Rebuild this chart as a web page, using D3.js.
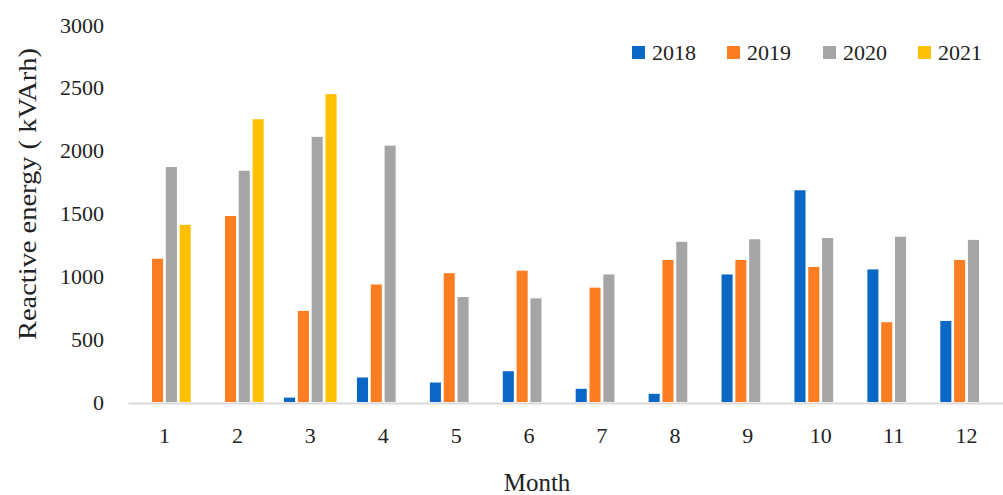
<!DOCTYPE html>
<html>
<head>
<meta charset="utf-8">
<script src="https://d3js.org/d3.v7.min.js"></script>
<style>
  body { margin: 0; background: #fff; }
  text { font-family: "Liberation Serif", "DejaVu Serif", serif; fill: #222; }
</style>
</head>
<body>
<script>
  var months = ["1","2","3","4","5","6","7","8","9","10","11","12"];
  var years = ["2018","2019","2020","2021"];
  var v2018 = [0, 0, 35, 195, 155, 245, 105, 65, 1015, 1685, 1055, 645];
  var v2019 = [1140, 1480, 725, 935, 1025, 1045, 910, 1130, 1130, 1075, 635, 1130];
  var v2020 = [1870, 1840, 2110, 2040, 835, 825, 1015, 1275, 1295, 1305, 1315, 1290];
  var v2021 = [1410, 2250, 2450, 0, 0, 0, 0, 0, 0, 0, 0, 0];
  var yTicks = [0, 500, 1000, 1500, 2000, 2500, 3000];
  var colors = ["#0a67c6", "#fd7d22", "#a5a5a5", "#ffc000"];

  var series = [v2018, v2019, v2020, v2021];
  var rows = months.map(function(m, i) {
    return {month: m, vals: years.map(function(y, j) { return {year: y, value: series[j][i]}; })};
  });

  var width = 1003, height = 495;
  var mLeft = 128, mRight = 1003, mTop = 25, mBottom = 402;

  var svg = d3.select("body").append("svg")
      .attr("width", width)
      .attr("height", height);

  var x0 = d3.scaleBand().domain(months).range([mLeft, mRight])
      .paddingInner(0.28).paddingOuter(0.14);
  var x1 = d3.scaleBand().domain(years).range([0, x0.bandwidth()])
      .paddingInner(0.2);
  var y = d3.scaleLinear().domain([0, 3000]).range([mBottom, mTop]);
  var color = d3.scaleOrdinal().domain(years).range(colors);

  // y axis: labels only
  var yAxis = svg.append("g")
      .attr("transform", "translate(" + (mLeft - 24) + ",0)")
      .call(d3.axisLeft(y).tickValues(yTicks).tickFormat(d3.format("d")).tickSize(0).tickPadding(0));
  yAxis.select(".domain").remove();
  yAxis.selectAll("text").style("font-size", "22px").attr("fill", "#222")
      .style("font-family", "'Liberation Serif', serif");

  // bars
  svg.append("g").selectAll("g")
    .data(rows)
    .enter().append("g")
      .attr("transform", function(d) { return "translate(" + x0(d.month) + ",0)"; })
    .selectAll("rect")
    .data(function(d) { return d.vals.filter(function(v) { return v.value > 0; }); })
    .enter().append("rect")
      .attr("x", function(d) { return x1(d.year); })
      .attr("width", x1.bandwidth())
      .attr("y", function(d) { return y(d.value); })
      .attr("height", function(d) { return y(0) - y(d.value); })
      .attr("fill", function(d) { return color(d.year); });

  // x axis
  var xAxis = svg.append("g")
      .attr("transform", "translate(0," + (mBottom + 1) + ")")
      .call(d3.axisBottom(x0).tickSize(0).tickPadding(24).tickSizeOuter(0));
  xAxis.select(".domain").attr("stroke", "#d9d9d9").attr("stroke-width", 2);
  xAxis.selectAll("text").style("font-size", "22px").attr("fill", "#222")
      .style("font-family", "'Liberation Serif', serif");

  // axis titles
  svg.append("text")
      .attr("transform", "translate(36,194) rotate(-90)")
      .attr("text-anchor", "middle")
      .attr("textLength", 292)
      .attr("lengthAdjust", "spacingAndGlyphs")
      .style("font-size", "26px")
      .text("Reactive energy ( kVArh)");

  svg.append("text")
      .attr("x", 537).attr("y", 491)
      .attr("text-anchor", "middle")
      .style("font-size", "25px")
      .text("Month");

  // legend
  var legendX = [632, 727, 823, 918];
  var legend = svg.append("g").selectAll("g")
    .data(years)
    .enter().append("g")
      .attr("transform", function(d, i) { return "translate(" + legendX[i] + ",46)"; });
  legend.append("rect")
      .attr("width", 13).attr("height", 13)
      .attr("fill", function(d) { return color(d); });
  legend.append("text")
      .attr("x", 20).attr("y", 14)
      .style("font-size", "22px")
      .text(function(d) { return d; });
</script>
</body>
</html>
